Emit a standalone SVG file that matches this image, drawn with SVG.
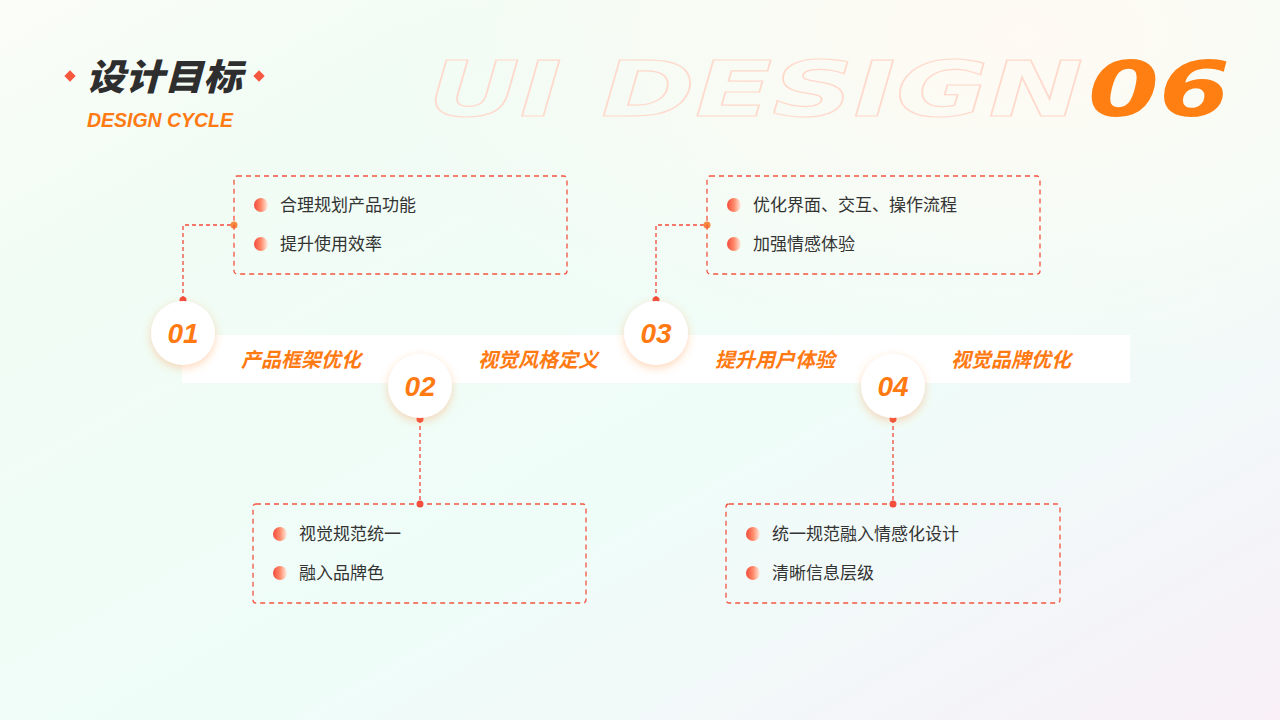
<svg xmlns="http://www.w3.org/2000/svg" width="1280" height="720" viewBox="0 0 1280 720">
<defs>
<linearGradient id="bg" x1="0" y1="0" x2="1" y2="1">
<stop offset="0" stop-color="#fbfdf8"/><stop offset="0.2" stop-color="#f1fcf4"/><stop offset="0.6" stop-color="#effdf9"/><stop offset="0.85" stop-color="#f4f5f8"/><stop offset="1" stop-color="#f8f0f6"/>
</linearGradient>
<radialGradient id="warm" cx="0.8" cy="0.05" r="0.5"><stop offset="0" stop-color="#fffaf3"/><stop offset="1" stop-color="#fffaf3" stop-opacity="0"/></radialGradient>
<linearGradient id="bul" x1="0" y1="0" x2="1" y2="0"><stop offset="0" stop-color="#f24b3c"/><stop offset="0.5" stop-color="#ff8a6a"/><stop offset="1" stop-color="#fff0e6"/></linearGradient>
<filter id="sh" x="-50%" y="-50%" width="200%" height="200%"><feDropShadow dx="0" dy="3" stdDeviation="4" flood-color="#ff8a30" flood-opacity="0.35"/></filter>
<style>
.num{font-family:"Liberation Sans",Arial,sans-serif;font-weight:bold;font-style:italic;font-size:28px;fill:#ff7a12;text-anchor:middle}
.lab{font-family:"Noto Sans CJK SC",sans-serif;font-weight:bold;font-style:italic;font-size:20px;fill:#ff7a12;text-anchor:middle}
.itm{font-family:"Noto Sans CJK SC",sans-serif;font-size:17px;fill:#333}
.box{fill:none;stroke:#f25540;stroke-width:1.3;stroke-dasharray:5 4}
.ln{fill:none;stroke:#f24b3c;stroke-width:1.3;stroke-dasharray:4 3}
.dot{fill:#f24b3c}
.circ{fill:#fff;filter:url(#sh)}
</style>
</defs>
<rect width="1280" height="720" fill="url(#bg)"/>
<rect width="1280" height="720" fill="url(#warm)"/>
<g id="title">
<rect x="66" y="72" width="8" height="8" fill="#f5583f" transform="rotate(45 70 76)"/>
<rect x="255" y="72" width="8" height="8" fill="#f5583f" transform="rotate(45 259 76)"/>
<text x="86" y="90" font-family="Noto Sans CJK SC,sans-serif" font-weight="900" font-style="italic" font-size="36" fill="#2e2e2e" textLength="156" lengthAdjust="spacingAndGlyphs">设计目标</text>
<text x="87" y="127" font-family="Liberation Sans,Arial,sans-serif" font-weight="bold" font-style="italic" font-size="21" fill="#ff7a12" textLength="146" lengthAdjust="spacingAndGlyphs">DESIGN CYCLE</text>
</g>
<g id="bigtitle" font-family="DejaVu Sans,sans-serif" font-weight="bold" font-style="italic" font-size="76">
<text x="428" y="116" fill="none" stroke="#ffd9cc" stroke-width="1.2" textLength="655" lengthAdjust="spacingAndGlyphs">UI  DESIGN</text>
<text x="1088" y="116" fill="#ff7f12" textLength="142" lengthAdjust="spacingAndGlyphs">06</text>
</g>
<rect id="band" x="182" y="335" width="948" height="48" fill="#fff"/>
<g id="connectors">
<path class="ln" d="M183 300V225H234"/>
<path class="ln" d="M420 419V504"/>
<path class="ln" d="M656 300V225H707"/>
<path class="ln" d="M893 419V504"/>
<circle class="dot" cx="183" cy="300" r="3.5"/><circle cx="234" cy="225" r="3.5" fill="#f7883e"/>
<circle class="dot" cx="420" cy="419" r="3.5"/><circle class="dot" cx="420" cy="504" r="3.5"/>
<circle class="dot" cx="656" cy="300" r="3.5"/><circle cx="707" cy="225" r="3.5" fill="#f7883e"/>
<circle class="dot" cx="893" cy="419" r="3.5"/><circle class="dot" cx="893" cy="504" r="3.5"/>
</g>
<g id="labels">
<text class="lab" x="301" y="367">产品框架优化</text>
<text class="lab" x="538" y="367">视觉风格定义</text>
<text class="lab" x="775" y="367">提升用户体验</text>
<text class="lab" x="1011" y="367">视觉品牌优化</text>
</g>
<g id="n01"><circle class="circ" cx="183" cy="333" r="32"/><text class="num" x="183" y="343">01</text></g>
<g id="n02"><circle class="circ" cx="420" cy="386" r="32"/><text class="num" x="420" y="396">02</text></g>
<g id="n03"><circle class="circ" cx="656" cy="333" r="32"/><text class="num" x="656" y="343">03</text></g>
<g id="n04"><circle class="circ" cx="893" cy="386" r="32"/><text class="num" x="893" y="396">04</text></g>
<g id="box1"><rect class="box" x="234" y="176" width="333" height="98" rx="3"/>
<circle cx="261" cy="205" r="7" fill="url(#bul)"/><text class="itm" x="280" y="211">合理规划产品功能</text>
<circle cx="261" cy="244" r="7" fill="url(#bul)"/><text class="itm" x="280" y="250">提升使用效率</text></g>
<g id="box3"><rect class="box" x="707" y="176" width="333" height="98" rx="3"/>
<circle cx="734" cy="205" r="7" fill="url(#bul)"/><text class="itm" x="753" y="211">优化界面、交互、操作流程</text>
<circle cx="734" cy="244" r="7" fill="url(#bul)"/><text class="itm" x="753" y="250">加强情感体验</text></g>
<g id="box2"><rect class="box" x="253" y="504" width="333" height="99" rx="3"/>
<circle cx="280" cy="534" r="7" fill="url(#bul)"/><text class="itm" x="299" y="540">视觉规范统一</text>
<circle cx="280" cy="573" r="7" fill="url(#bul)"/><text class="itm" x="299" y="579">融入品牌色</text></g>
<g id="box4"><rect class="box" x="726" y="504" width="334" height="99" rx="3"/>
<circle cx="753" cy="534" r="7" fill="url(#bul)"/><text class="itm" x="772" y="540">统一规范融入情感化设计</text>
<circle cx="753" cy="573" r="7" fill="url(#bul)"/><text class="itm" x="772" y="579">清晰信息层级</text></g>
</svg>
